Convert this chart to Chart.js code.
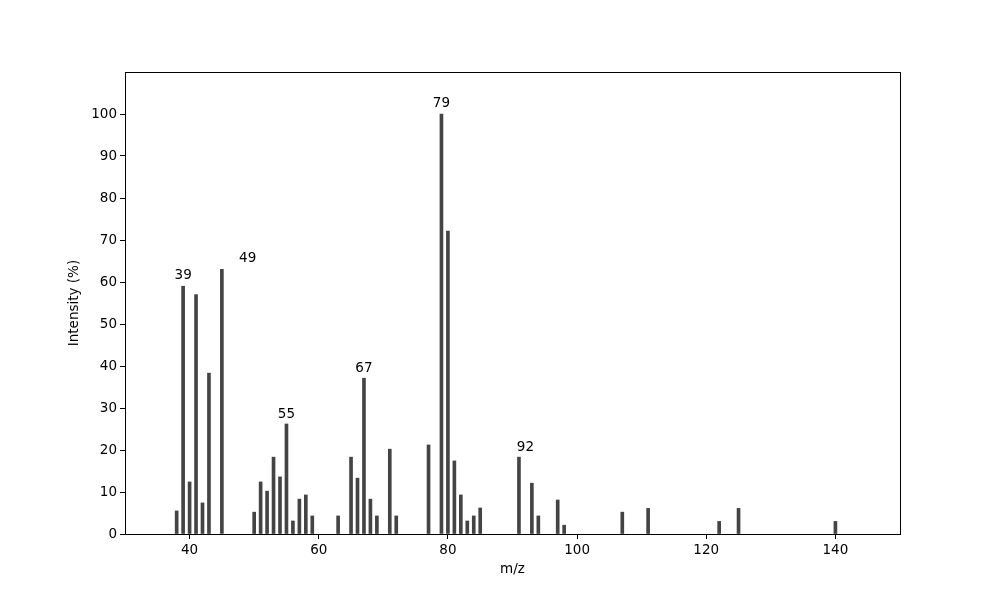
<!DOCTYPE html>
<html lang="en">
<head>
<meta charset="UTF-8">
<title>Mass spectrum</title>
<script src="https://cdn.jsdelivr.net/npm/chart.js"></script>
<style>
    html, body { margin: 0; padding: 0; background: #fff; }
    #wrap { width: 1000px; height: 600px; }
</style>
</head>
<body>
<div id="wrap"><canvas id="spec"></canvas></div>
<script>
// peaks
const mz = [38, 39, 40, 41, 42, 43, 45, 50, 51, 52, 53, 54, 55, 56, 57, 58, 59, 63,
            65, 66, 67, 68, 69, 71, 72, 77, 79, 80, 81, 82, 83, 84, 85,
            91, 93, 94, 97, 98, 107, 111, 122, 125, 140];
const intensity = [5.5, 59, 12.4, 57, 7.4, 38.3, 63, 5.2, 12.4, 10.2, 18.3, 13.6, 26.2, 3.1, 8.3, 9.3, 4.3, 4.3,
                   18.3, 13.3, 37.1, 8.3, 4.3, 20.2, 4.3, 21.2, 100, 72.1, 17.4, 9.3, 3.1, 4.3, 6.2,
                   18.3, 12.1, 4.3, 8.1, 2.1, 5.2, 6.1, 3.0, 6.1, 3.0];

// annotations
const peakLabels = ['39', '49', '55', '67', '79', '92'];
const labelMz = [39, 49, 55, 67, 79, 92];
const labelAt = [61.5, 65.5, 28.5, 39.5, 102.5, 20.7];

// tick labels
const xTicks = [40, 60, 80, 100, 120, 140];
const yTicks = [0, 10, 20, 30, 40, 50, 60, 70, 80, 90, 100];

const font = "'DejaVu Sans', sans-serif";

// matplotlib-like frame + peak labels
const extras = {
    id: 'extras',
    afterDatasetsDraw(chart) {
        const {ctx, chartArea: a, scales} = chart;
        ctx.save();
        ctx.strokeStyle = '#000';
        ctx.lineWidth = 1;
        ctx.strokeRect(a.left + 0.5, a.top + 0.5, a.right - a.left, a.bottom - a.top);
        ctx.fillStyle = '#000';
        ctx.font = "13.5px " + font;
        ctx.textAlign = 'center';
        ctx.textBaseline = 'middle';
        peakLabels.forEach((t, i) => {
            ctx.fillText(t, scales.x.getPixelForValue(labelMz[i]), scales.y.getPixelForValue(labelAt[i]));
        });
        ctx.restore();
    }
};

new Chart(document.getElementById('spec'), {
    type: 'bar',
    data: {
        datasets: [{
            data: mz.map((m, i) => ({x: m, y: intensity[i]})),
            backgroundColor: '#444444',
            barThickness: 3
        }]
    },
    options: {
        responsive: true,
        maintainAspectRatio: false,
        animation: false,
        layout: { padding: { left: 0, top: 72, right: 100, bottom: 0 } },
        plugins: { legend: { display: false }, tooltip: { enabled: false } },
        scales: {
            x: {
                type: 'linear',
                min: 30, max: 150,
                offset: false,
                grid: { offset: false, drawOnChartArea: false, drawTicks: true, tickLength: 5, color: '#000' },
                border: { color: '#000' },
                ticks: { color: '#000', font: { family: font, size: 13.5 }, padding: 3 },
                afterBuildTicks: s => { s.ticks = xTicks.map(v => ({value: v})); },
                title: { display: true, text: 'm/z', color: '#000', font: { family: font, size: 13.5 },
                         padding: { top: 0, bottom: 22 } },
                afterFit: s => { s.height = 66; }
            },
            y: {
                min: 0, max: 110,
                grid: { drawOnChartArea: false, drawTicks: true, tickLength: 5, color: '#000' },
                border: { color: '#000' },
                ticks: { color: '#000', font: { family: font, size: 13.5 }, padding: 3 },
                afterBuildTicks: s => { s.ticks = yTicks.map(v => ({value: v})); },
                title: { display: true, text: 'Intensity (%)', color: '#000', font: { family: font, size: 13.5 },
                         padding: { top: 66, bottom: 0 } },
                afterFit: s => { s.width = 125; }
            }
        }
    },
    plugins: [extras]
});
</script>
</body>
</html>
